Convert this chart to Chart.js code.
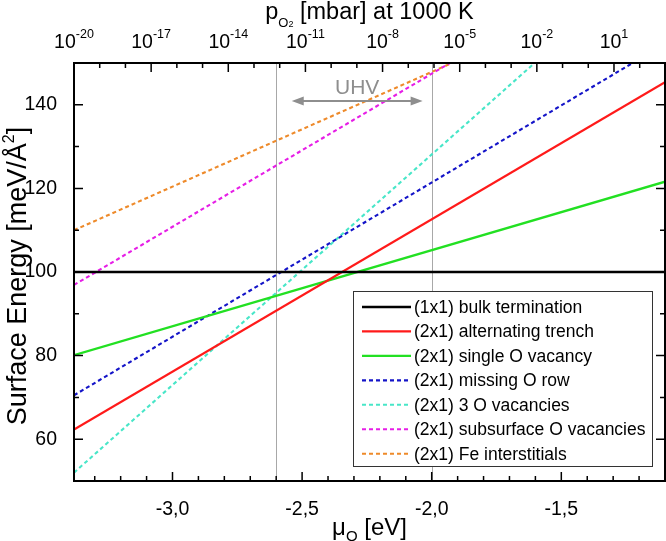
<!DOCTYPE html>
<html>
<head>
<meta charset="utf-8">
<script src="https://cdn.jsdelivr.net/npm/chart.js@4.4.1/dist/chart.umd.min.js"></script>
<style>
  html, body { margin: 0; padding: 0; background: #fff; }
  #chart { display: block; }
</style>
</head>
<body>
<canvas id="chart" width="666" height="541"></canvas>
<script>
'use strict';

// axis ranges: oxygen chemical potential (eV) and surface energy (meV/Å²)
const muRange = [-3.38, -1.10];
const energyRange = [50, 150];

// one pair of end points per termination (lines are straight in mu)
const bulkMu = [-3.38, -1.10],        bulkE = [100.0, 100.0];
const trenchMu = [-3.38, -1.10],      trenchE = [62.3, 145.4];
const singleVacMu = [-3.38, -1.10],   singleVacE = [80.1, 121.6];
const missingRowMu = [-3.38, -1.225], missingRowE = [70.5, 150.0];
const threeVacMu = [-3.38, -1.603],   threeVacE = [52.0, 150.0];
const subsurfMu = [-3.38, -1.930],    subsurfE = [96.9, 150.0];
const feInterMu = [-3.38, -1.922],    feInterE = [110.0, 150.0];

const seriesNames = [
  '(1x1) bulk termination',
  '(2x1) alternating trench',
  '(2x1) single O vacancy',
  '(2x1) missing O row',
  '(2x1) 3 O vacancies',
  '(2x1) subsurface O vacancies',
  '(2x1) Fe interstitials'
];
const seriesColors = ['#000000', '#ff1a1a', '#22e022', '#1414c8', '#48e6c8', '#e61ee6', '#ee8a2a'];

// tick labels
const muTicks = [-3.0, -2.5, -2.0, -1.5];
const energyTicks = [60, 80, 100, 120, 140];
const pressureExponents = [-20, -17, -14, -11, -8, -5, -2, 1];

// UHV window
const uhvLimits = [-2.6, -2.0];
const uhvArrowMu = [-2.54, -2.035];
const uhvArrowE = 140.9;

const decadeEV = 0.0992; // 0.5*kT*ln(10) at 1000 K
const FONT = '"Liberation Sans", Arial, sans-serif';

function pts(xs, ys) {
  return xs.map((x, i) => ({ x: x, y: ys[i] }));
}

function drawRich(ctx, parts, x, y, align) {
  let w = 0;
  parts.forEach(p => {
    ctx.font = p.size + 'px ' + FONT;
    p.w = ctx.measureText(p.t).width;
    w += p.w;
  });
  let cx = align === 'center' ? x - w / 2 : x;
  ctx.textAlign = 'left';
  ctx.textBaseline = 'alphabetic';
  parts.forEach(p => {
    ctx.font = p.size + 'px ' + FONT;
    ctx.fillText(p.t, cx, y + (p.dy || 0));
    cx += p.w;
  });
}

const decor = {
  id: 'decor',
  beforeDatasetsDraw(chart) {
    const { ctx, chartArea: a, scales: { x } } = chart;
    ctx.save();
    ctx.strokeStyle = '#a8a8a8';
    ctx.lineWidth = 1;
    uhvLimits.forEach(m => {
      const px = Math.round(x.getPixelForValue(m)) + 0.5;
      ctx.beginPath();
      ctx.moveTo(px, a.top);
      ctx.lineTo(px, a.bottom);
      ctx.stroke();
    });
    ctx.restore();
  },
  afterDatasetsDraw(chart) {
    const { ctx, chartArea: a, scales: { x, y } } = chart;
    ctx.save();

    // frame
    ctx.strokeStyle = '#000';
    ctx.lineWidth = 2;
    ctx.strokeRect(a.left, a.top, a.right - a.left, a.bottom - a.top);

    // bottom ticks, every 0.1 eV
    ctx.lineWidth = 1.5;
    ctx.beginPath();
    for (let k = Math.ceil(muRange[0] * 10 + 0.01); k <= Math.floor(muRange[1] * 10 - 0.01); k++) {
      const v = k / 10;
      const len = muTicks.some(t => Math.abs(t - v) < 1e-6) ? 9 : 5;
      const px = x.getPixelForValue(v);
      ctx.moveTo(px, a.bottom);
      ctx.lineTo(px, a.bottom - len);
    }
    // top ticks, every decade of pressure
    const nDec = Math.floor((muRange[1] - muRange[0]) / decadeEV + 1e-6);
    for (let n = 1; n <= nDec; n++) {
      const px = x.getPixelForValue(muRange[0] + n * decadeEV);
      const len = n % 3 === 0 ? 9 : 5;
      ctx.moveTo(px, a.top);
      ctx.lineTo(px, a.top + len);
    }
    // left and right ticks, every 10
    for (let v = energyRange[0] + 10; v < energyRange[1]; v += 10) {
      const py = y.getPixelForValue(v);
      const len = energyTicks.includes(v) ? 9 : 5;
      ctx.moveTo(a.left, py);
      ctx.lineTo(a.left + len, py);
      ctx.moveTo(a.right, py);
      ctx.lineTo(a.right - len, py);
    }
    ctx.stroke();

    ctx.fillStyle = '#000';
    // top tick labels
    pressureExponents.forEach(e => {
      const px = x.getPixelForValue(muRange[0] + (e - pressureExponents[0]) * decadeEV);
      drawRich(ctx, [{ t: '10', size: 19.5 }, { t: String(e), size: 12.5, dy: -10 }], px, 48, 'center');
    });

    // top title
    const mid = (a.left + a.right) / 2;
    drawRich(ctx, [
      { t: 'p', size: 23.5 }, { t: 'O', size: 13, dy: 8 }, { t: '2', size: 9, dy: 8 },
      { t: ' [mbar] at 1000 K', size: 23.5 }
    ], mid, 19, 'center');

    // bottom title
    drawRich(ctx, [
      { t: 'μ', size: 24 }, { t: 'O', size: 15, dy: 6 }, { t: ' [eV]', size: 24 }
    ], mid, 535, 'center');

    // left title
    ctx.save();
    ctx.translate(26, (a.top + a.bottom) / 2 + 4);
    ctx.rotate(-Math.PI / 2);
    drawRich(ctx, [
      { t: 'Surface Energy [meV/Å', size: 27 }, { t: '2', size: 16, dy: -12 }, { t: ']', size: 27 }
    ], 0, 0, 'center');
    ctx.restore();

    // UHV arrow
    const ax0 = x.getPixelForValue(uhvArrowMu[0]);
    const ax1 = x.getPixelForValue(uhvArrowMu[1]);
    const ay = y.getPixelForValue(uhvArrowE);
    ctx.strokeStyle = '#8e8e8e';
    ctx.fillStyle = '#8e8e8e';
    ctx.lineWidth = 2;
    ctx.beginPath();
    ctx.moveTo(ax0 + 8, ay);
    ctx.lineTo(ax1 - 8, ay);
    ctx.stroke();
    ctx.beginPath();
    ctx.moveTo(ax0, ay); ctx.lineTo(ax0 + 12, ay - 4.5); ctx.lineTo(ax0 + 12, ay + 4.5); ctx.closePath();
    ctx.moveTo(ax1, ay); ctx.lineTo(ax1 - 12, ay - 4.5); ctx.lineTo(ax1 - 12, ay + 4.5); ctx.closePath();
    ctx.fill();
    drawRich(ctx, [{ t: 'UHV', size: 21 }], (ax0 + ax1) / 2, ay - 7, 'center');

    // legend box
    const lx = 353, ly = 291, lw = 299, lh = 175;
    ctx.fillStyle = '#fff';
    ctx.fillRect(lx, ly, lw, lh);
    ctx.strokeStyle = '#333';
    ctx.lineWidth = 1;
    ctx.strokeRect(lx + 0.5, ly + 0.5, lw, lh);
    chart.data.datasets.forEach((ds, i) => {
      const ry = ly + 16 + i * 24.45;
      ctx.strokeStyle = ds.borderColor;
      ctx.lineWidth = ds.borderWidth;
      ctx.setLineDash(ds.borderDash || []);
      ctx.beginPath();
      ctx.moveTo(lx + 9, ry);
      ctx.lineTo(lx + 58, ry);
      ctx.stroke();
      ctx.setLineDash([]);
      ctx.fillStyle = '#000';
      ctx.font = '17.5px ' + FONT;
      ctx.textAlign = 'left';
      ctx.textBaseline = 'middle';
      ctx.fillText(ds.label, lx + 61, ry + 1);
    });

    ctx.restore();
  }
};

const seriesData = [
  pts(bulkMu, bulkE),
  pts(trenchMu, trenchE),
  pts(singleVacMu, singleVacE),
  pts(missingRowMu, missingRowE),
  pts(threeVacMu, threeVacE),
  pts(subsurfMu, subsurfE),
  pts(feInterMu, feInterE)
];

new Chart(document.getElementById('chart'), {
  type: 'line',
  data: {
    datasets: seriesData.map((d, i) => ({
      label: seriesNames[i],
      data: d,
      borderColor: seriesColors[i],
      borderWidth: i < 3 ? 2.3 : 2.1,
      borderDash: i < 3 ? [] : [4, 3],
      pointRadius: 0,
      fill: false,
      tension: 0
    }))
  },
  options: {
    responsive: false,
    animation: false,
    layout: { padding: { top: 63, right: 1, left: 0, bottom: 0 } },
    plugins: { legend: { display: false }, tooltip: { enabled: false } },
    scales: {
      x: {
        type: 'linear',
        position: 'bottom',
        min: muRange[0],
        max: muRange[1],
        grid: { display: false },
        border: { display: false },
        afterBuildTicks: s => { s.ticks = muTicks.map(v => ({ value: v })); },
        afterFit: s => { s.height = 60; },
        ticks: {
          color: '#000',
          padding: 9,
          maxRotation: 0,
          font: { family: FONT, size: 19.5 },
          callback: v => v.toFixed(1).replace('.', ',')
        }
      },
      y: {
        type: 'linear',
        min: energyRange[0],
        max: energyRange[1],
        grid: { display: false },
        border: { display: false },
        afterBuildTicks: s => { s.ticks = energyTicks.map(v => ({ value: v })); },
        afterFit: s => { s.width = 74; },
        ticks: {
          color: '#000',
          padding: 9,
          font: { family: FONT, size: 19.5 }
        }
      }
    }
  },
  plugins: [decor]
});
</script>
</body>
</html>
